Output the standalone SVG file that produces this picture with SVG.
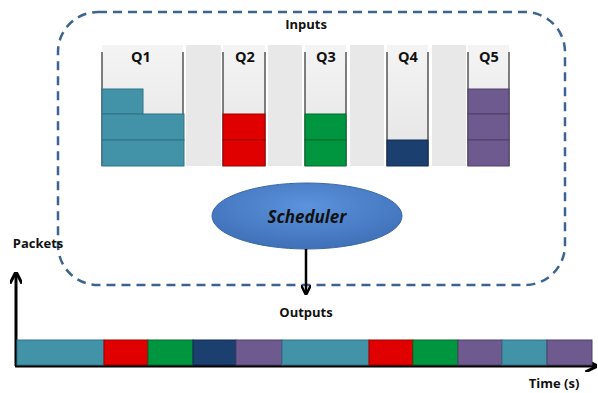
<svg xmlns="http://www.w3.org/2000/svg" width="598" height="393" viewBox="0 0 598 393">
<defs>
<style>
.lbl{font-family:"Open Sans","Liberation Sans",sans-serif;font-weight:bold;font-size:13px;fill:#111;text-anchor:middle}
.q{font-size:14.5px}
.col{fill:url(#colg)}
.gap{fill:#e8e8e8}
.wall{stroke:#555;stroke-width:1.5}
.blk{stroke-width:1}
.teal{fill:#4393a8;stroke:#2f7386}
.red{fill:#e00000;stroke:#a00000}
.green{fill:#00963f;stroke:#006a2c}
.navy{fill:#1b3f6e;stroke:#122c4e}
.purple{fill:#6e5a8e;stroke:#4f3f69}
.ax{stroke:#000;stroke-width:3;fill:none}
</style>
<linearGradient id="colg" x1="0" y1="0" x2="0" y2="1">
<stop offset="0" stop-color="#f4f4f4"/><stop offset="1" stop-color="#e4e4e4"/>
</linearGradient>
<radialGradient id="ellg" cx="0.5" cy="0.35" r="0.65">
<stop offset="0" stop-color="#5b93dc"/><stop offset="1" stop-color="#3f70b8"/>
</radialGradient>
<marker id="ah" viewBox="0 0 10 10" refX="8" refY="5" markerWidth="4" markerHeight="4" orient="auto">
<path d="M0,0 L10,5 L0,10" fill="none" stroke="#000" stroke-width="2.5"/>
</marker>
</defs>

<g id="inputs-box">
<rect x="58" y="12" width="507" height="273" rx="40" ry="40" fill="none" stroke="#3d6491" stroke-width="2.5" stroke-dasharray="9,6"/>
<text class="lbl" x="306" y="29">Inputs</text>
</g>

<g id="queue-bg">
<rect class="gap" x="186" y="45" width="35" height="121"/>
<rect class="gap" x="268" y="45" width="34" height="121"/>
<rect class="gap" x="350" y="45" width="34" height="121"/>
<rect class="gap" x="432" y="45" width="34" height="121"/>
</g>

<g id="Q1">
<rect class="col" x="102" y="45" width="81" height="121"/>
<line class="wall" x1="102" y1="52" x2="102" y2="166"/>
<line class="wall" x1="183" y1="52" x2="183" y2="166"/>
<rect class="blk teal" x="102" y="89" width="41" height="25"/>
<rect class="blk teal" x="102" y="114" width="82" height="26"/>
<rect class="blk teal" x="102" y="140" width="82" height="26"/>
<text class="lbl q" x="141" y="62">Q1</text>
</g>
<g id="Q2">
<rect class="col" x="223" y="45" width="42" height="121"/>
<line class="wall" x1="223" y1="52" x2="223" y2="166"/>
<line class="wall" x1="265" y1="52" x2="265" y2="166"/>
<rect class="blk red" x="223" y="114" width="42" height="26"/>
<rect class="blk red" x="223" y="140" width="42" height="26"/>
<text class="lbl q" x="245" y="62">Q2</text>
</g>
<g id="Q3">
<rect class="col" x="305" y="45" width="41" height="121"/>
<line class="wall" x1="305" y1="52" x2="305" y2="166"/>
<line class="wall" x1="346" y1="52" x2="346" y2="166"/>
<rect class="blk green" x="305" y="114" width="41" height="26"/>
<rect class="blk green" x="305" y="140" width="41" height="26"/>
<text class="lbl q" x="326" y="62">Q3</text>
</g>
<g id="Q4">
<rect class="col" x="387" y="45" width="41" height="121"/>
<line class="wall" x1="387" y1="52" x2="387" y2="166"/>
<line class="wall" x1="428" y1="52" x2="428" y2="166"/>
<rect class="blk navy" x="387" y="140" width="41" height="26"/>
<text class="lbl q" x="408" y="62">Q4</text>
</g>
<g id="Q5">
<rect class="col" x="468" y="45" width="41" height="121"/>
<line class="wall" x1="468" y1="52" x2="468" y2="166"/>
<line class="wall" x1="509" y1="52" x2="509" y2="166"/>
<rect class="blk purple" x="468" y="89" width="41" height="25"/>
<rect class="blk purple" x="468" y="114" width="41" height="26"/>
<rect class="blk purple" x="468" y="140" width="41" height="26"/>
<text class="lbl q" x="489" y="62">Q5</text>
</g>

<g id="scheduler">
<ellipse cx="307" cy="216" rx="95" ry="33" fill="url(#ellg)" stroke="#3a66a8" stroke-width="1"/>
<text x="307" y="223" font-family="'Open Sans','Liberation Sans',sans-serif" font-weight="bold" font-style="italic" font-size="17" fill="#111" text-anchor="middle">Scheduler</text>
</g>

<g id="connectors">
<line x1="306" y1="249" x2="306" y2="293" stroke="#000" stroke-width="2.5" marker-end="url(#ah)"/>
<line class="ax" x1="16" y1="366" x2="16" y2="274" marker-end="url(#ah)"/>
<line class="ax" x1="15" y1="366" x2="595" y2="366" marker-end="url(#ah)"/>
</g>

<g id="labels">
<text class="lbl" x="306" y="317">Outputs</text>
<text class="lbl" x="38" y="248">Packets</text>
<text class="lbl" x="554" y="388">Time (s)</text>
</g>

<g id="outputs">
<rect class="blk teal" x="17" y="340" width="87" height="25"/>
<rect class="blk red" x="104" y="340" width="44" height="25"/>
<rect class="blk green" x="148" y="340" width="45" height="25"/>
<rect class="blk navy" x="193" y="340" width="43" height="25"/>
<rect class="blk purple" x="236" y="340" width="46" height="25"/>
<rect class="blk teal" x="282" y="340" width="87" height="25"/>
<rect class="blk red" x="369" y="340" width="44" height="25"/>
<rect class="blk green" x="413" y="340" width="45" height="25"/>
<rect class="blk purple" x="458" y="340" width="44" height="25"/>
<rect class="blk teal" x="502" y="340" width="45" height="25"/>
<rect class="blk purple" x="547" y="340" width="45" height="25"/>
</g>
</svg>
